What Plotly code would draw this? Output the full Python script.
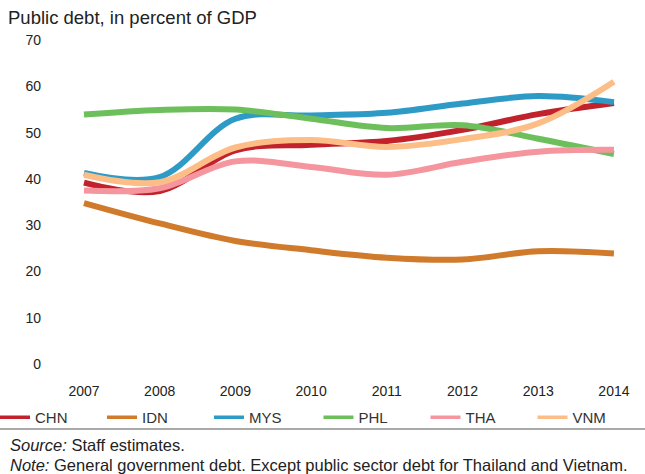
import plotly.graph_objects as go

years = [2007, 2008, 2009, 2010, 2011, 2012, 2013, 2014]
chn = [39.2, 37.4, 46.2, 47.4, 48.2, 50.6, 54.0, 56.4]
idn = [34.8, 30.4, 26.6, 24.6, 23.0, 22.6, 24.4, 23.9]
mys = [41.3, 40.4, 53.0, 53.7, 54.3, 56.3, 57.9, 56.6]
phl = [53.9, 54.9, 55.0, 53.0, 51.0, 51.6, 48.7, 45.4]
tha = [37.5, 38.0, 43.8, 42.6, 40.9, 43.7, 45.9, 46.3]
vnm = [40.9, 39.3, 46.8, 48.4, 46.9, 48.6, 52.0, 61.0]

names = ["CHN", "IDN", "MYS", "PHL", "THA", "VNM"]
series = [chn, idn, mys, phl, tha, vnm]
colors = ["#c1222c", "#d07a2c", "#2e9bc7", "#6cbf5b", "#f5959d", "#fdbd86"]
y_ticks = [0, 10, 20, 30, 40, 50, 60, 70]

FONT = "Liberation Sans, Arial"
TEXTFONT = "Liberation Sans, Arial"

fig = go.Figure()
for n, s, c in zip(names, series, colors):
    fig.add_trace(go.Scatter(
        x=years, y=s, name=n, mode="lines", showlegend=False, legendgroup=n,
        line=dict(color=c, width=6, shape="spline", smoothing=1.0),
    ))
# legend entries (thinner line keys), split over two legend boxes so they fit one row
for i, (n, c) in enumerate(zip(names, colors)):
    fig.add_trace(go.Scatter(
        x=[None], y=[None], name=n, mode="lines", legendgroup=n,
        legend="legend" if i < 3 else "legend2",
        line=dict(color=c, width=3.5),
    ))

W, H = 645, 474
L, R, T, B = 45, 15, 38, 96
pw = W - L - R
ph = H - T - B

legend_common = dict(orientation="h", xref="paper", yref="paper", xanchor="left",
                     y=(T + ph - 417.5) / ph, yanchor="middle", entrywidth=62,
                     entrywidthmode="pixels", itemwidth=30,
                     font=dict(family=FONT, size=15, color="#333"),
                     bgcolor="rgba(0,0,0,0)", tracegroupgap=0,
                     itemclick=False, itemdoubleclick=False)

fig.update_layout(
    width=W, height=H,
    margin=dict(l=L, r=R, t=T, b=B, autoexpand=False),
    paper_bgcolor="white", plot_bgcolor="white",
    title=dict(text="Public debt, in percent of GDP", xref="container", yref="container",
               x=8 / W, xanchor="left", y=1 - 18 / H, yanchor="middle",
               font=dict(family=TEXTFONT, size=18.5, color="#222")),
    xaxis=dict(range=[2006.485, 2014.212], tickvals=years, ticktext=[str(y) for y in years],
               showgrid=False, zeroline=False, showline=False, ticks="",
               ticklabelstandoff=3,
               tickfont=dict(family=FONT, size=14, color="#222")),
    yaxis=dict(range=[-3, 70.45], tickvals=y_ticks, showgrid=False, zeroline=False,
               showline=False, ticks="", ticklabelstandoff=3,
               tickfont=dict(family=FONT, size=14, color="#222")),
    showlegend=True,
    legend=dict(x=(-5 - L) / pw, **legend_common),
    legend2=dict(x=(318.5 - L) / pw, **legend_common),
    shapes=[dict(type="line", xref="paper", yref="paper", x0=-L / pw, x1=1 + R / pw,
                 y0=(T + ph - 429) / ph, y1=(T + ph - 429) / ph,
                 line=dict(color="#555", width=1))],
    annotations=[
        dict(text="<i>Source:</i> Staff estimates.", xref="paper", yref="paper",
             x=(8 - L) / pw, xanchor="left", y=(T + ph - 444.5) / ph, yanchor="middle",
             showarrow=False, font=dict(family=TEXTFONT, size=16.5, color="#222")),
        dict(text="<i>Note:</i> General government debt. Except public sector debt for Thailand and Vietnam.",
             xref="paper", yref="paper",
             x=(8 - L) / pw, xanchor="left", y=(T + ph - 465) / ph, yanchor="middle",
             showarrow=False, font=dict(family=TEXTFONT, size=16.5, color="#222")),
    ],
)

fig.write_html("out.html", config={"displayModeBar": False},
               post_script="document.body.style.margin='0';document.body.style.padding='0';")
